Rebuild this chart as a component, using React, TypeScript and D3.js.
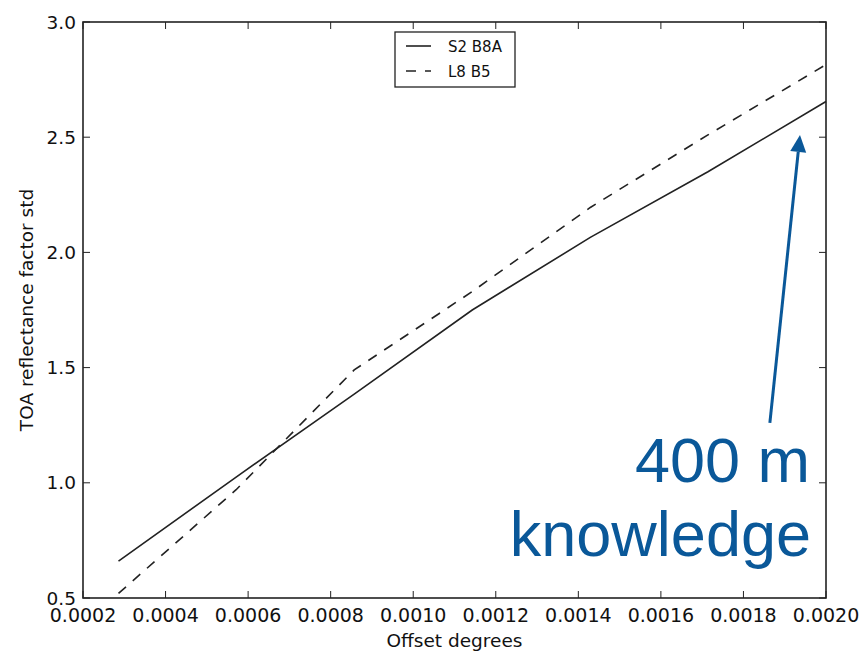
import React from 'react';
import * as d3 from 'd3';

const offsets = [0.000286, 0.000571, 0.000857, 0.001143, 0.001429, 0.001714, 0.002];
const s2B8A = [0.66, 1.025, 1.385, 1.75, 2.065, 2.35, 2.655];
const l8B5 = [0.52, 0.97, 1.49, 1.83, 2.195, 2.51, 2.815];
const xTicks = [0.0002, 0.0004, 0.0006, 0.0008, 0.001, 0.0012, 0.0014, 0.0016, 0.0018, 0.002];
const yTicks = [0.5, 1.0, 1.5, 2.0, 2.5, 3.0];
const seriesNames = ['S2 B8A', 'L8 B5'];

const width = 859;
const height = 654;
const margin = { top: 22, right: 33, bottom: 56, left: 83 };

const font = 'DejaVu Sans, sans-serif';

export default function App() {
	const x = d3
		.scaleLinear()
		.domain([0.0002, 0.002])
		.range([margin.left, width - margin.right]);
	const y = d3
		.scaleLinear()
		.domain([0.5, 3.0])
		.range([height - margin.bottom, margin.top]);

	const line = d3
		.line<number>()
		.x((d, i) => x(offsets[i]))
		.y((d) => y(d));

	const x0 = x.range()[0];
	const x1 = x.range()[1];
	const y0 = y.range()[0];
	const y1 = y.range()[1];
	const tick = 7;

	const blue = '#0a5899';
	// arrow ends, in data units
	const arrowFrom = [0.001864, 1.26];
	const arrowTo = [0.001937, 2.51];
	const ax1 = x(arrowFrom[0]);
	const ay1 = y(arrowFrom[1]);
	const ax2 = x(arrowTo[0]);
	const ay2 = y(arrowTo[1]);
	const ang = Math.atan2(ay2 - ay1, ax2 - ax1);
	const headLen = 17;
	const headHalf = 8;
	const bx = ax2 - headLen * Math.cos(ang);
	const by = ay2 - headLen * Math.sin(ang);
	const head = [
		[ax2, ay2],
		[bx + headHalf * Math.sin(ang), by - headHalf * Math.cos(ang)],
		[bx - headHalf * Math.sin(ang), by + headHalf * Math.cos(ang)],
	];

	return (
		<svg
			width={width}
			height={height}
			style={{ position: 'absolute', left: 0, top: 0, background: '#fff' }}
		>
			<rect width={width} height={height} fill="#fff" />
			<path d={line(s2B8A) || ''} fill="none" stroke="#222" strokeWidth={1.6} />
			<path
				d={line(l8B5) || ''}
				fill="none"
				stroke="#222"
				strokeWidth={1.6}
				strokeDasharray="10 9"
			/>

			{xTicks.map((t) => (
				<g key={'x' + t}>
					<line x1={x(t)} x2={x(t)} y1={y0} y2={y0 - tick} stroke="#222" strokeWidth={1} />
					<line x1={x(t)} x2={x(t)} y1={y1} y2={y1 + tick} stroke="#222" strokeWidth={1} />
					<text
						x={x(t)}
						y={y0 + 24}
						textAnchor="middle"
						fontFamily={font}
						fontSize={19}
						fill="#111"
					>
						{d3.format('.4f')(t)}
					</text>
				</g>
			))}
			{yTicks.map((t) => (
				<g key={'y' + t}>
					<line x1={x0} x2={x0 + tick} y1={y(t)} y2={y(t)} stroke="#222" strokeWidth={1} />
					<line x1={x1} x2={x1 - tick} y1={y(t)} y2={y(t)} stroke="#222" strokeWidth={1} />
					<text
						x={x0 - 7}
						y={y(t) + 6.5}
						textAnchor="end"
						fontFamily={font}
						fontSize={18.5}
						fill="#111"
					>
						{d3.format('.1f')(t)}
					</text>
				</g>
			))}
			<rect
				x={x0}
				y={y1}
				width={x1 - x0}
				height={y0 - y1}
				fill="none"
				stroke="#222"
				strokeWidth={1.6}
			/>

			<text
				x={(x0 + x1) / 2}
				y={647}
				textAnchor="middle"
				fontFamily={font}
				fontSize={18.5}
				fill="#111"
			>
				Offset degrees
			</text>
			<text
				transform={`translate(33,${(y0 + y1) / 2}) rotate(-90)`}
				textAnchor="middle"
				fontFamily={font}
				fontSize={18.5}
				fill="#111"
			>
				TOA reflectance factor std
			</text>

			<g>
				<rect x={395} y={32} width={120} height={55} fill="#fff" stroke="#222" strokeWidth={1.3} />
				<line x1={406} x2={431} y1={46} y2={46} stroke="#222" strokeWidth={1.6} />
				<line
					x1={406}
					x2={431}
					y1={71}
					y2={71}
					stroke="#222"
					strokeWidth={1.6}
					strokeDasharray="10 9"
				/>
				<text x={448} y={52} fontFamily={font} fontSize={15} fill="#111">
					{seriesNames[0]}
				</text>
				<text x={448} y={77} fontFamily={font} fontSize={15} fill="#111">
					{seriesNames[1]}
				</text>
			</g>

			<line x1={ax1} y1={ay1} x2={bx} y2={by} stroke={blue} strokeWidth={3} />
			<polygon points={head.map((p) => p.join(',')).join(' ')} fill={blue} />
			<text
				x={810}
				y={482}
				textAnchor="end"
				fontFamily="Liberation Sans, Arial, sans-serif"
				fontSize={63}
				fill={blue}
			>
				400 m
			</text>
			<text
				x={811}
				y={556}
				textAnchor="end"
				fontFamily="Liberation Sans, Arial, sans-serif"
				fontSize={63}
				fill={blue}
			>
				knowledge
			</text>
		</svg>
	);
}
